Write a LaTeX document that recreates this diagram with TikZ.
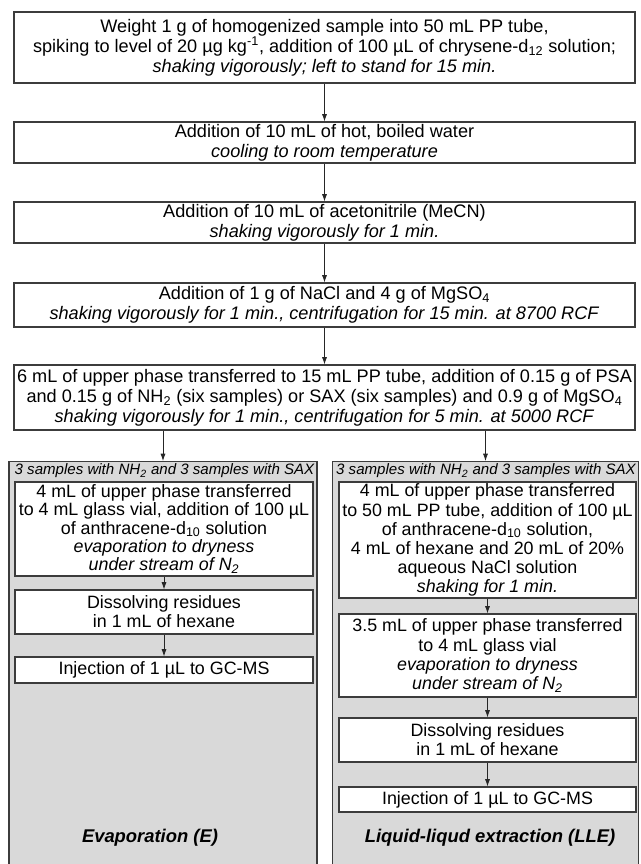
\documentclass[tikz,border=0pt]{standalone}
\usepackage{fontspec}
\setmainfont{Liberation Sans}
\usetikzlibrary{arrows.meta}
\definecolor{panelgray}{RGB}{217,217,217}
\definecolor{linegray}{RGB}{60,60,60}
\begin{document}
\begin{tikzpicture}[x=0.75pt,y=-0.75pt,
  topbox/.style={draw=linegray,line width=0.8pt,fill=white,align=center,inner sep=0pt,
    minimum width=465.75pt,font=\fontsize{13.6}{15}\selectfont},
  lbox/.style={draw=linegray,line width=0.8pt,fill=white,align=center,inner sep=0pt,
    minimum width=223.5pt,font=\fontsize{13.4}{14.3}\selectfont},
  rbox/.style={lbox,minimum width=222.75pt},
  panel/.style={draw=linegray,line width=0.8pt,fill=panelgray,inner sep=0pt},
  hdr/.style={font=\fontsize{11.3}{13}\selectfont\itshape,inner sep=0pt},
  lab/.style={font=\fontsize{13.8}{16}\selectfont\bfseries\itshape,inner sep=0pt},
  arr/.style={draw=black!85,line width=0.6pt,-{Latex[length=5.5pt,width=3.8pt]}}
]
\useasboundingbox (0,0) rectangle (641,864);
\fill[white] (0,0) rectangle (641,864);

% top chain
\node[topbox,minimum height=53.25pt] (b1) at (324.5,47.5)
 {Weight 1 g of homogenized sample into 50 mL PP tube,\\
  spiking to level of 20 µg kg\textsuperscript{-1}, addition of 100 µL of chrysene-d\textsubscript{12} solution;\\
  \textit{shaking vigorously; left to stand for 15 min.}};
\node[topbox,minimum height=30.75pt] (b2) at (324.5,142.5)
 {Addition of 10 mL of hot, boiled water\\ \textit{cooling to room temperature}};
\node[topbox,minimum height=30.75pt] (b3) at (324.5,222.5)
 {Addition of 10 mL of acetonitrile (MeCN)\\ \textit{shaking vigorously for 1 min.}};
\node[topbox,minimum height=33pt] (b4) at (324.5,305)
 {Addition of 1 g of NaCl and 4 g of MgSO\textsubscript{4}\\
  \textit{shaking vigorously for 1 min., centrifugation for 15 min. at 8700 RCF}};
\node[topbox,minimum height=48.75pt] (b5) at (324.5,397.5)
 {6 mL of upper phase transferred to 15 mL PP tube, addition of 0.15 g of PSA\\
  and 0.15 g of NH\textsubscript{2} (six samples) or SAX (six samples) and 0.9 g of MgSO\textsubscript{4}\\
  \textit{shaking vigorously for 1 min., centrifugation for 5 min. at 5000 RCF}};

\draw[arr] (b1) -- (b2);
\draw[arr] (b2) -- (b3);
\draw[arr] (b3) -- (b4);
\draw[arr] (b4) -- (b5);

% panels
\node[panel,minimum width=231pt,minimum height=306.75pt,anchor=north] (pL) at (163,461) {};
\node[panel,minimum width=229.5pt,minimum height=306.75pt,anchor=north] (pR) at (485.5,461) {};

\draw[arr] (b5.south -| pL.north) -- (pL.north);
\draw[arr] (b5.south -| pR.north) -- (pR.north);

\node[hdr] (hL) at (164.5,471) {3 samples with NH\textsubscript{2} and 3 samples with SAX};
\node[hdr] (hR) at (486,471) {3 samples with NH\textsubscript{2} and 3 samples with SAX};

% left column
\node[lbox,minimum height=70.5pt,font=\fontsize{13.4}{13.8}\selectfont] (a1) at (164,529)
 {4 mL of upper phase transferred\\
  to 4 mL glass vial, addition of 100 µL\\
  of anthracene-d\textsubscript{10} solution\\
  \textit{evaporation to dryness}\\
  \textit{under stream of N\textsubscript{2}}};
\node[lbox,minimum height=33pt] (a2) at (164,612)
 {Dissolving residues\\ in 1 mL of hexane};
\node[lbox,minimum height=19.5pt] (a3) at (164,670)
 {Injection of 1 µL to GC-MS};
\draw[arr] (a1) -- (a2);
\draw[arr] (a2) -- (a3);

% right column
\node[rbox,minimum height=87pt] (c1) at (487.5,540)
 {4 mL of upper phase transferred\\
  to 50 mL PP tube, addition of 100 µL\\
  of anthracene-d\textsubscript{10} solution,\\
  4 mL of hexane and 20 mL of 20\%\\
  aqueous NaCl solution\\
  \textit{shaking for 1 min.}};
\node[rbox,minimum height=62.25pt] (c2) at (487.5,655.5)
 {3.5 mL of upper phase transferred\\
  to 4 mL glass vial\\
  \textit{evaporation to dryness}\\
  \textit{under stream of N\textsubscript{2}}};
\node[rbox,minimum height=33pt] (c3) at (487.5,740)
 {Dissolving residues\\ in 1 mL of hexane};
\node[rbox,minimum height=18.75pt] (c4) at (487.5,799.5)
 {Injection of 1 µL to GC-MS};
\draw[arr] (c1) -- (c2);
\draw[arr] (c2) -- (c3);
\draw[arr] (c3) -- (c4);

\node[lab] (lL) at (150,838) {Evaporation (E)};
\node[lab] (lR) at (490,838) {Liquid-liqud extraction (LLE)};
\end{tikzpicture}
\end{document}
